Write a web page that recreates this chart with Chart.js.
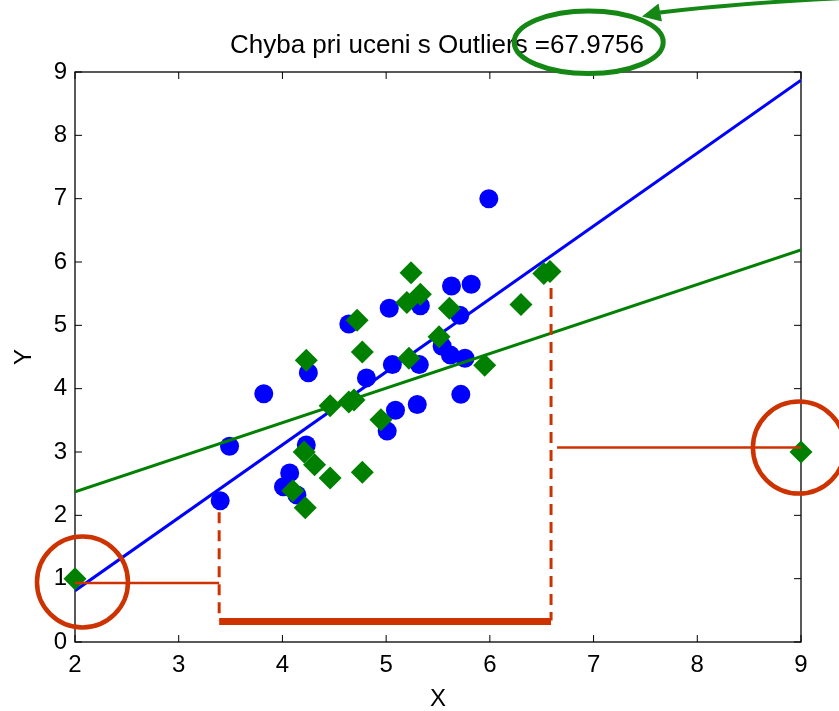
<!DOCTYPE html>
<html>
<head>
<meta charset="utf-8">
<script src="https://cdn.jsdelivr.net/npm/chart.js@4.4.0/dist/chart.umd.min.js"></script>
<style>
    html, body { margin: 0; padding: 0; background: #fff; }
</style>
</head>
<body>
<canvas id="grafico" width="839" height="711"></canvas>
<script>
const titolo = 'Chyba pri uceni s Outliers =67.9756'
const tickX = [2, 3, 4, 5, 6, 7, 8, 9]
const tickY = [0, 1, 2, 3, 4, 5, 6, 7, 8, 9]

// punti blu (dati senza outlier)
const bluX = [5.99, 3.82, 3.49, 3.40, 4.25, 4.81, 4.23, 4.07, 4.01, 4.14, 5.06, 5.32, 5.62,
    5.76, 5.54, 5.72, 5.09, 5.30, 5.01, 5.63, 5.82, 5.03, 5.33, 5.71, 4.64]
const bluY = [7.00, 3.92, 3.09, 2.23, 4.25, 4.17, 3.11, 2.67, 2.45, 2.32, 4.38, 4.38, 4.53,
    4.48, 4.67, 3.91, 3.66, 3.75, 3.33, 5.62, 5.65, 5.27, 5.31, 5.16, 5.02]

// punti verdi (dati con outlier)
const verdeX = [2.00, 9.00, 4.23, 4.77, 4.46, 4.64, 4.69, 4.21, 4.31, 4.10, 4.46, 4.77, 4.22,
    5.22, 5.95, 4.95, 5.24, 6.52, 6.58, 5.20, 5.33, 5.61, 6.30, 5.51, 4.72]
const verdeY = [1.00, 3.00, 4.45, 4.58, 3.73, 3.79, 3.82, 3.00, 2.80, 2.39, 2.59, 2.68, 2.12,
    4.48, 4.37, 3.51, 5.83, 5.82, 5.85, 5.36, 5.49, 5.27, 5.33, 4.82, 5.08]

// rette di regressione, estremi
const rettaBluX = [2, 9]
const rettaBluY = [0.81, 8.87]
const rettaVerdeX = [2, 9]
const rettaVerdeY = [2.37, 6.19]

const ROSSO = '#cc3300'
const VERDE = '#008000'

const punti = (xs, ys) => xs.map((x, i) => ({ x: x, y: ys[i] }))

Chart.defaults.font.family = '"Liberation Sans", Arial, Helvetica, sans-serif'
Chart.defaults.color = '#000'

// box degli assi con tacche interne
const cornice = {
    id: 'cornice',
    beforeDatasetsDraw(chart) {
        const { ctx, chartArea: a, scales: { x, y } } = chart
        ctx.save()
        ctx.strokeStyle = '#000'
        ctx.lineWidth = 1.3
        ctx.strokeRect(a.left, a.top, a.right - a.left, a.bottom - a.top)
        ctx.lineWidth = 1
        ctx.beginPath()
        tickX.forEach(v => {
            const px = x.getPixelForValue(v)
            ctx.moveTo(px, a.bottom); ctx.lineTo(px, a.bottom - 7)
            ctx.moveTo(px, a.top); ctx.lineTo(px, a.top + 7)
        })
        tickY.forEach(v => {
            const py = y.getPixelForValue(v)
            ctx.moveTo(a.left, py); ctx.lineTo(a.left + 7, py)
            ctx.moveTo(a.right, py); ctx.lineTo(a.right - 7, py)
        })
        ctx.stroke()
        ctx.restore()
    }
}

// titolo e annotazioni sopra il grafico
const annotazioni = {
    id: 'annotazioni',
    afterDraw(chart) {
        const { ctx, chartArea: a, scales: { x, y } } = chart
        const X = v => x.getPixelForValue(v)
        const Y = v => y.getPixelForValue(v)
        ctx.save()

        ctx.fillStyle = '#000'
        ctx.font = '26px "Liberation Sans", Arial, sans-serif'
        ctx.textAlign = 'center'
        ctx.textBaseline = 'alphabetic'
        ctx.fillText(titolo, (a.left + a.right) / 2 - 1, 52.5)

        ctx.strokeStyle = ROSSO
        ctx.lineCap = 'butt'

        // cerchi sugli outlier
        ctx.lineWidth = 4.5
        ctx.beginPath()
        ctx.arc(X(2.072), Y(0.947), 45.5, 0, Math.PI * 2)
        ctx.stroke()
        ctx.beginPath()
        ctx.arc(X(8.98), Y(3.07), 46, 0, Math.PI * 2)
        ctx.stroke()

        // linee orizzontali sottili
        ctx.lineWidth = 2.5
        ctx.beginPath()
        ctx.moveTo(X(2), Y(0.93)); ctx.lineTo(X(3.39), Y(0.93))
        ctx.moveTo(X(6.648), Y(3.07)); ctx.lineTo(X(9), Y(3.07))
        ctx.stroke()

        // tratteggi verticali
        ctx.lineWidth = 3
        ctx.setLineDash([11, 7])
        ctx.beginPath()
        ctx.moveTo(X(3.39), Y(2.05)); ctx.lineTo(X(3.39), Y(0.34))
        ctx.moveTo(X(6.59), Y(5.59)); ctx.lineTo(X(6.59), Y(0.34))
        ctx.stroke()
        ctx.setLineDash([])

        // barra spessa
        ctx.lineWidth = 7
        ctx.beginPath()
        ctx.moveTo(X(3.39), Y(0.324)); ctx.lineTo(X(6.59), Y(0.324))
        ctx.stroke()

        // ellisse e freccia verdi sul titolo
        ctx.strokeStyle = 'rgb(20, 135, 20)'
        ctx.fillStyle = 'rgb(20, 135, 20)'
        ctx.lineWidth = 5
        ctx.beginPath()
        ctx.ellipse(588.7, 42.2, 74.5, 31.3, 0, 0, Math.PI * 2)
        ctx.stroke()

        ctx.lineWidth = 4
        ctx.beginPath()
        ctx.moveTo(845, -2)
        ctx.quadraticCurveTo(740, 3, 660, 12.5)
        ctx.stroke()
        ctx.beginPath()
        ctx.moveTo(642, 16.5)
        ctx.lineTo(658.5, 3.5)
        ctx.lineTo(662, 21.5)
        ctx.closePath()
        ctx.fill()

        ctx.restore()
    }
}

new Chart(document.getElementById('grafico'), {
    type: 'scatter',
    data: {
        datasets: [
            {
                label: 'outlier',
                data: punti(verdeX, verdeY),
                pointStyle: 'rectRot',
                pointRadius: 11.5,
                backgroundColor: VERDE,
                borderWidth: 0,
                clip: false,
                order: 0
            },
            {
                label: 'retta verde',
                data: punti(rettaVerdeX, rettaVerdeY),
                showLine: true,
                borderColor: VERDE,
                borderWidth: 3,
                pointRadius: 0,
                order: 1
            },
            {
                label: 'retta blu',
                data: punti(rettaBluX, rettaBluY),
                showLine: true,
                borderColor: '#0000ff',
                borderWidth: 3,
                pointRadius: 0,
                order: 1
            },
            {
                label: 'dati',
                data: punti(bluX, bluY),
                pointStyle: 'circle',
                pointRadius: 9.5,
                backgroundColor: '#0000ff',
                borderWidth: 0,
                order: 2
            }
        ]
    },
    options: {
        responsive: false,
        animation: false,
        events: [],
        layout: { padding: { top: 72, right: 38, left: 0, bottom: 0 } },
        plugins: {
            legend: { display: false },
            tooltip: { enabled: false }
        },
        scales: {
            x: {
                type: 'linear',
                min: 2,
                max: 9,
                grid: { display: false, drawTicks: false },
                border: { display: false },
                afterBuildTicks: s => { s.ticks = tickX.map(v => ({ value: v })) },
                afterFit: s => { s.height = 69 },
                ticks: { font: { size: 24 }, padding: 9, autoSkip: false, maxRotation: 0 },
                title: { display: true, text: 'X', font: { size: 24, lineHeight: 1 }, padding: { top: 0, bottom: 0 } }
            },
            y: {
                type: 'linear',
                min: 0,
                max: 9,
                grid: { display: false, drawTicks: false },
                border: { display: false },
                afterBuildTicks: s => { s.ticks = tickY.map(v => ({ value: v })) },
                afterFit: s => { s.width = 75 },
                ticks: { font: { size: 24 }, padding: 8, autoSkip: false },
                title: { display: true, text: 'Y', font: { size: 24, lineHeight: 1 }, padding: { top: 12, bottom: 0 } }
            }
        }
    },
    plugins: [cornice, annotazioni]
})
</script>
</body>
</html>
